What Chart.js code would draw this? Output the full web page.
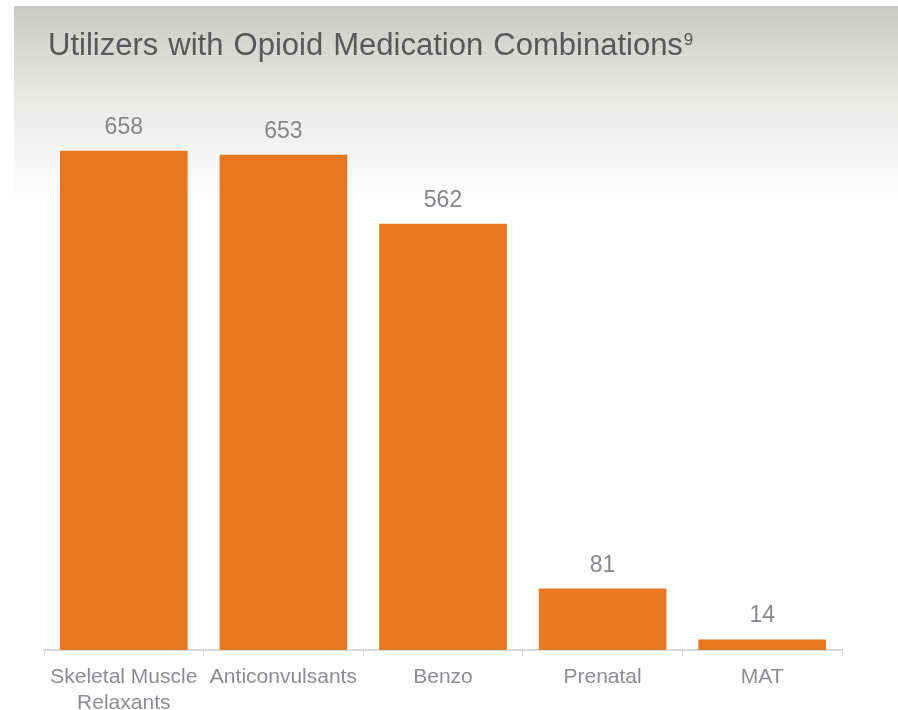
<!DOCTYPE html>
<html>
<head>
<meta charset="utf-8">
<script src="https://cdn.jsdelivr.net/npm/chart.js@4.4.1/dist/chart.umd.min.js"></script>
<style>
  html, body { margin: 0; padding: 0; background: #ffffff; }
  #wrap { position: relative; width: 898px; height: 710px; }
</style>
</head>
<body>
<div id="wrap"><canvas id="resultsChart" width="898" height="710"></canvas></div>
<script>
// chart data
const categories = [["Skeletal Muscle", "Relaxants"], "Anticonvulsants", "Benzo", "Prenatal", "MAT"];
const utilizers = [658, 653, 562, 81, 14];
const chartTitle = "Utilizers with Opioid Medication Combinations";
const titleNote = "9";

// Grey header band with the title and its footnote mark
const headerPlugin = {
  id: 'header',
  beforeDraw(chart) {
    const ctx = chart.ctx;
    ctx.save();
    const grad = ctx.createLinearGradient(0, 6, 0, 205);
    grad.addColorStop(0, '#c9c9c4');
    grad.addColorStop(0.5, '#ebebea');
    grad.addColorStop(1, '#ffffff');
    ctx.fillStyle = grad;
    ctx.fillRect(14, 6, chart.width - 14, 200);

    ctx.fillStyle = '#58585b';
    ctx.textBaseline = 'alphabetic';
    ctx.textAlign = 'left';
    ctx.font = '31px "Liberation Sans", Arial, sans-serif';
    ctx.wordSpacing = '1.5px';
    ctx.fillText(chartTitle, 48, 55);
    const w = ctx.measureText(chartTitle).width;
    ctx.wordSpacing = '0px';
    ctx.font = '17px "Liberation Sans", Arial, sans-serif';
    ctx.fillText(titleNote, 48 + w + 1, 45);
    ctx.restore();
  }
};

// Value labels above each bar
const valueLabels = {
  id: 'valueLabels',
  afterDatasetsDraw(chart) {
    const ctx = chart.ctx;
    const meta = chart.getDatasetMeta(0);
    ctx.save();
    ctx.fillStyle = '#86878c';
    ctx.font = '23px "Liberation Sans", Arial, sans-serif';
    ctx.textAlign = 'center';
    ctx.textBaseline = 'alphabetic';
    meta.data.forEach((bar, i) => {
      ctx.fillText(String(utilizers[i]), bar.x, bar.y - 17);
    });
    ctx.restore();
  }
};

const ctx = document.getElementById('resultsChart').getContext('2d');
new Chart(ctx, {
  type: 'bar',
  data: {
    labels: categories,
    datasets: [{
      data: utilizers,
      backgroundColor: '#e87722',
      borderWidth: 0,
      barPercentage: 0.8,
      categoryPercentage: 1
    }]
  },
  options: {
    responsive: false,
    animation: false,
    devicePixelRatio: 1,
    layout: { padding: { left: 44, right: 56, top: 119, bottom: 0 } },
    plugins: {
      legend: { display: false },
      title: { display: false },
      tooltip: { enabled: false }
    },
    scales: {
      x: {
        afterFit: s => { s.height = 60; },
        border: { display: true, color: '#d9d9d9', width: 2 },
        grid: { drawOnChartArea: false, drawTicks: true, tickLength: 6, color: '#d9d9d9', offset: true },
        ticks: {
          color: '#8c8c92',
          padding: 9,
          maxRotation: 0,
          autoSkip: false,
          font: { family: '"Liberation Sans", Arial, sans-serif', size: 21, lineHeight: 1.2 }
        }
      },
      y: {
        display: false,
        min: 0,
        max: 700
      }
    }
  },
  plugins: [headerPlugin, valueLabels]
});
</script>
</body>
</html>
